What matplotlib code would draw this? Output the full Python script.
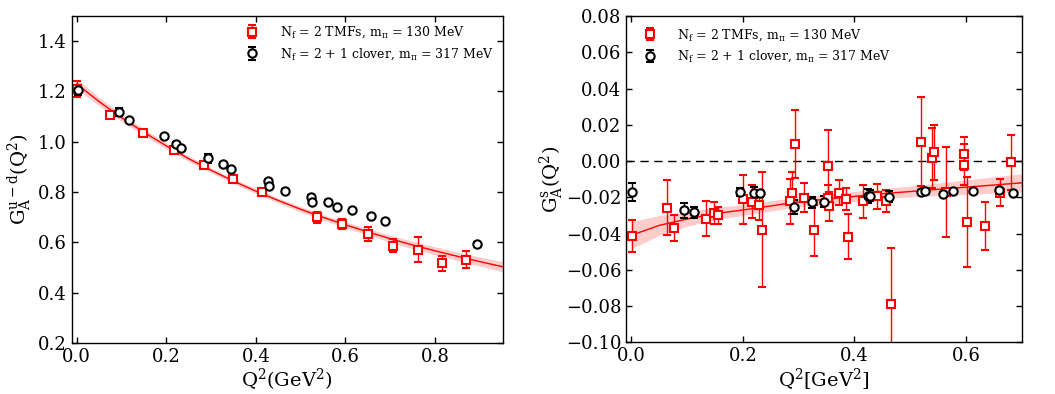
import numpy as np
import matplotlib
matplotlib.use('Agg')
import matplotlib.pyplot as plt
from matplotlib.ticker import FuncFormatter

plt.rcParams['font.family'] = ['DejaVu Serif']
plt.rcParams['mathtext.fontset'] = 'dejavuserif'
plt.rcParams['xtick.direction'] = 'in'
plt.rcParams['ytick.direction'] = 'in'
plt.rcParams['xtick.top'] = True
plt.rcParams['ytick.right'] = True

# ---- panel a: isovector G_A^{u-d} ----
q2_tmf_a = [0.0, 0.074, 0.147, 0.217, 0.284, 0.350, 0.414, 0.536, 0.593, 0.650, 0.707, 0.762, 0.815, 0.868]
ga_tmf_a = [1.210, 1.108, 1.035, 0.966, 0.909, 0.854, 0.801, 0.700, 0.675, 0.635, 0.587, 0.571, 0.518, 0.532]
err_tmf_a = [0.030, 0.012, 0.008, 0.010, 0.012, 0.012, 0.012, 0.022, 0.020, 0.028, 0.025, 0.050, 0.030, 0.035]

q2_clv_a = [0.002, 0.094, 0.116, 0.195, 0.221, 0.234, 0.294, 0.326, 0.344, 0.428, 0.430, 0.465,
            0.522, 0.525, 0.560, 0.580, 0.614, 0.658, 0.688, 0.894]
ga_clv_a = [1.205, 1.118, 1.086, 1.022, 0.992, 0.976, 0.935, 0.912, 0.891, 0.843, 0.823, 0.805,
            0.782, 0.762, 0.761, 0.740, 0.728, 0.707, 0.687, 0.594]
err_clv_a = [0.020, 0.015, 0.006, 0.006, 0.006, 0.006, 0.018, 0.006, 0.006, 0.006, 0.006, 0.006,
             0.006, 0.006, 0.006, 0.006, 0.006, 0.006, 0.006, 0.006]

# fit curve
q2_fit_a = [0.0, 0.05, 0.10, 0.15, 0.20, 0.25, 0.30, 0.35, 0.40, 0.45, 0.50,
            0.55, 0.60, 0.65, 0.70, 0.75, 0.80, 0.85, 0.90, 0.95]
ga_fit_a = [1.230, 1.160, 1.096, 1.038, 0.984, 0.933, 0.887, 0.844, 0.804, 0.767, 0.732,
            0.700, 0.670, 0.642, 0.615, 0.590, 0.567, 0.545, 0.524, 0.504]
band_a = [0.020, 0.017, 0.015, 0.013, 0.012, 0.011, 0.010, 0.010, 0.010, 0.010, 0.011,
          0.011, 0.012, 0.013, 0.014, 0.015, 0.016, 0.017, 0.018, 0.020]

# ---- panel b: strange G_A^s ----
q2_tmf_b = [0.001, 0.065, 0.076, 0.134, 0.149, 0.155, 0.200, 0.217, 0.229, 0.234, 0.285, 0.288,
            0.294, 0.309, 0.327, 0.352, 0.352, 0.354, 0.373, 0.385, 0.388, 0.415, 0.441, 0.456,
            0.465, 0.520, 0.538, 0.542, 0.564, 0.596, 0.596, 0.602, 0.634, 0.661, 0.681]
ga_tmf_b = [-0.0413, -0.0257, -0.0369, -0.0317, -0.0285, -0.0300, -0.0211, -0.0224, -0.0243, -0.0378,
            -0.0222, -0.0176, 0.0094, -0.0202, -0.0381, -0.0026, -0.0202, -0.0248, -0.0174, -0.0211,
            -0.0417, -0.0222, -0.0194, -0.0222, -0.0787, 0.0107, 0.0015, 0.0048, -0.0170, 0.0041,
            -0.0019, -0.0337, -0.0357, -0.0174, -0.0007]
err_tmf_b = [0.0090, 0.0150, 0.0070, 0.0095, 0.0060, 0.0045, 0.0135, 0.0090, 0.0080, 0.0315,
             0.0125, 0.0115, 0.0185, 0.0080, 0.0140, 0.0200, 0.0070, 0.0080, 0.0070, 0.0060,
             0.0125, 0.0090, 0.0070, 0.0060, 0.0310, 0.0245, 0.0165, 0.0150, 0.0250, 0.0090,
             0.0115, 0.0250, 0.0133, 0.0075, 0.0150]

q2_clv_b = [0.001, 0.095, 0.113, 0.195, 0.221, 0.230, 0.292, 0.324, 0.345, 0.424, 0.427, 0.462,
            0.520, 0.526, 0.558, 0.577, 0.612, 0.658, 0.684]
ga_clv_b = [-0.0170, -0.0272, -0.0283, -0.0170, -0.0174, -0.0178, -0.0254, -0.0228, -0.0224,
            -0.0193, -0.0190, -0.0196, -0.0172, -0.0167, -0.0180, -0.0163, -0.0163, -0.0159, -0.0178]
err_clv_b = [0.0050, 0.0040, 0.0030, 0.0020, 0.0030, 0.0020, 0.0040, 0.0030, 0.0030, 0.0040,
             0.0030, 0.0030, 0.0010, 0.0010, 0.0010, 0.0010, 0.0010, 0.0010, 0.0010]

q2_fit_b = [0.0, 0.05, 0.10, 0.15, 0.20, 0.30, 0.40, 0.45, 0.50, 0.60, 0.70]
ga_fit_b = [-0.0410, -0.0355, -0.0320, -0.0290, -0.0270, -0.0225, -0.0195, -0.0180, -0.0168, -0.0144, -0.0120]
band_b = [0.0075, 0.0055, 0.0040, 0.0033, 0.0030, 0.0027, 0.0027, 0.0028, 0.0030, 0.0040, 0.0050]

label_tmf = r'$\mathrm{N_f}$ = 2 TMFs, $\mathrm{m_\pi}$ = 130 MeV'
label_clv = r'$\mathrm{N_f}$ = 2 + 1 clover, $\mathrm{m_\pi}$ = 317 MeV'


def draw_panel(ax, q2_fit, g_fit, band, q2_t, g_t, e_t, q2_c, g_c, e_c):
    q2_fit = np.array(q2_fit)
    g_fit = np.array(g_fit)
    band = np.array(band)
    ax.fill_between(q2_fit, g_fit - band, g_fit + band, color='red', alpha=0.2, lw=0)
    ax.plot(q2_fit, g_fit, color='red', lw=1)
    ax.errorbar(q2_t, g_t, yerr=e_t, fmt='s', color='red', mfc='white', mec='red', mew=1.5,
                ms=6, capsize=3, capthick=1.5, elinewidth=1, label=label_tmf)
    ax.errorbar(q2_c, g_c, yerr=e_c, fmt='o', color='black', mfc='white', mec='black', mew=1.5,
                ms=6, capsize=3, capthick=1.5, elinewidth=1, label=label_clv)
    ax.tick_params(labelsize=13, length=4, width=1)
    for s in ax.spines.values():
        s.set_linewidth(1)


fig = plt.figure(figsize=(10.55, 3.94), dpi=100)

ax1 = fig.add_axes([0.068, 0.129, 0.4085, 0.8305])
draw_panel(ax1, q2_fit_a, ga_fit_a, band_a, q2_tmf_a, ga_tmf_a, err_tmf_a,
           q2_clv_a, ga_clv_a, err_clv_a)
ax1.set_xlim(-0.011, 0.951)
ax1.set_ylim(0.2, 1.5)
ax1.set_xticks([0.0, 0.2, 0.4, 0.6, 0.8])
ax1.set_yticks([0.2, 0.4, 0.6, 0.8, 1.0, 1.2, 1.4])
ax1.set_xlabel(r'$\mathrm{Q^2(GeV^2)}$', fontsize=14, labelpad=1)
ax1.set_ylabel(r'$\mathrm{G_A^{u-d}(Q^2)}$', fontsize=14, labelpad=3)
ax1.legend(loc='upper right', frameon=False, fontsize=9, numpoints=1, handletextpad=1.2,
           borderaxespad=0.3)

ax2 = fig.add_axes([0.5934, 0.131, 0.3753, 0.8284])
ax2.axhline(0.0, color='black', ls='--', dashes=(6, 4), lw=1)
draw_panel(ax2, q2_fit_b, ga_fit_b, band_b, q2_tmf_b, ga_tmf_b, err_tmf_b,
           q2_clv_b, ga_clv_b, err_clv_b)
ax2.set_xlim(-0.009, 0.7)
ax2.set_ylim(-0.10, 0.08)
ax2.set_yticks(np.arange(-0.10, 0.081, 0.02))
ax2.yaxis.set_major_formatter(FuncFormatter(
    lambda v, p: ('%.2f' % v).replace('-', '\u2212') if abs(v) > 1e-9 else '0.00'))
ax2.set_xlabel(r'$\mathrm{Q^2[GeV^2]}$', fontsize=14, labelpad=1)
ax2.set_ylabel(r'$\mathrm{G_A^s(Q^2)}$', fontsize=14, labelpad=0)
ax2.legend(loc='upper left', frameon=False, fontsize=9, numpoints=1, handletextpad=1.2,
           borderaxespad=0.3, borderpad=0.6)

fig.savefig('out.png', dpi=100)
